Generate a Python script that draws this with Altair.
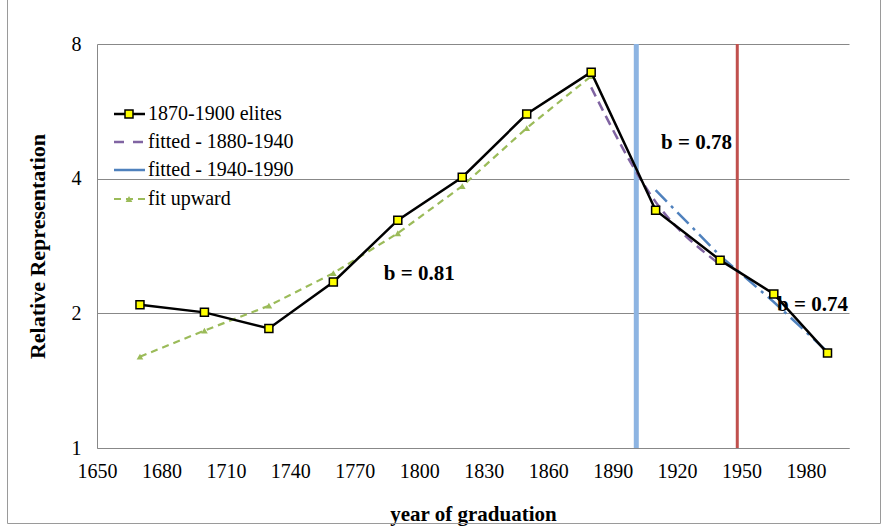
import altair as alt
import pandas as pd

# ---- data ----
years_main = [1670, 1700, 1730, 1760, 1790, 1820, 1850, 1880, 1910, 1940, 1965, 1990]
elite = [2.09, 2.01, 1.85, 2.35, 3.23, 4.03, 5.58, 6.92, 3.40, 2.63, 2.21, 1.63]

years_up = [1670, 1700, 1730, 1760, 1790, 1820, 1850, 1880]
fit_up = [1.60, 1.83, 2.08, 2.46, 3.02, 3.85, 5.19, 6.78]

years_fit1 = [1880, 1910, 1940]
fit1 = [6.40, 3.55, 2.57]

years_fit2 = [1910, 1940, 1965, 1990]
fit2 = [3.77, 2.69, 2.12, 1.64]

vline_years = [1901, 1948]
vline_colors = ["#8DB4E2", "#C0504D"]

x_ticks = [1650, 1680, 1710, 1740, 1770, 1800, 1830, 1860, 1890, 1920, 1950, 1980]
y_ticks = [1, 2, 4, 8]

ann_text = ["b = 0.81", "b = 0.78", "b = 0.74"]
ann_x = [1800, 1929, 1983]
ann_y = [2.45, 4.80, 2.09]

legend_labels = ["1870-1900 elites", "fitted - 1880-1940", "fitted - 1940-1990", "fit upward"]

FONT = "Liberation Serif"

df_main = pd.DataFrame({"year": years_main, "value": elite})
df_up = pd.DataFrame({"year": years_up, "value": fit_up})
df_f1 = pd.DataFrame({"year": years_fit1, "value": fit1})
df_f2 = pd.DataFrame({"year": years_fit2, "value": fit2})
df_v = pd.DataFrame({"year": vline_years, "color": vline_colors})
df_ann = pd.DataFrame({"year": ann_x, "value": ann_y, "text": ann_text})

xscale = alt.Scale(domain=[1650, 2000], nice=False, zero=False)
yscale = alt.Scale(type="log", base=2, domain=[1, 8], nice=False)

X = alt.X("year:Q", scale=xscale,
          axis=alt.Axis(values=x_ticks, grid=False, ticks=False, format="d",
                        title="year of graduation", labelPadding=13, titlePadding=22,
                        labelFlush=False, labelOverlap=False,
                        domainColor="#888888", labelFont=FONT, labelFontSize=20,
                        labelColor="black", titleFont=FONT, titleFontSize=21,
                        titleFontWeight="bold", titleColor="black"))
Y = alt.Y("value:Q", scale=yscale,
          axis=alt.Axis(values=y_ticks, grid=True, gridColor="#888888", gridWidth=1,
                        ticks=False, format="d", title="Relative Representation",
                        labelPadding=16, titlePadding=22, domainColor="#888888",
                        labelFlush=False, labelOverlap=False,
                        labelFont=FONT, labelFontSize=20, labelColor="black",
                        titleFont=FONT, titleFontSize=22, titleFontWeight="bold",
                        titleColor="black"))

base_axes = alt.Chart(df_main).mark_line(opacity=0).encode(x=X, y=Y)

vlines = alt.Chart(df_v).mark_rule().encode(
    x=alt.X("year:Q", scale=xscale),
    color=alt.Color("color:N", scale=None),
    strokeWidth=alt.condition(alt.datum.year < 1920, alt.value(5), alt.value(3)),
)

up_line = alt.Chart(df_up).mark_line(color="#9BBB59", strokeWidth=2.2,
                                     strokeDash=[7, 5]).encode(
    x=alt.X("year:Q", scale=xscale), y=alt.Y("value:Q", scale=yscale))
up_pts = alt.Chart(df_up).mark_point(shape="triangle-up", filled=True, color="#9BBB59",
                                     size=45, opacity=1).encode(
    x=alt.X("year:Q", scale=xscale), y=alt.Y("value:Q", scale=yscale))

f1_line = alt.Chart(df_f1).mark_line(color="#8064A2", strokeWidth=2.5,
                                     strokeDash=[10, 6], interpolate="monotone").encode(
    x=alt.X("year:Q", scale=xscale), y=alt.Y("value:Q", scale=yscale))
f2_line = alt.Chart(df_f2).mark_line(color="#4F81BD", strokeWidth=2.5,
                                     strokeDash=[16, 6, 3, 6]).encode(
    x=alt.X("year:Q", scale=xscale), y=alt.Y("value:Q", scale=yscale))

main_line = alt.Chart(df_main).mark_line(color="black", strokeWidth=2.5).encode(
    x=alt.X("year:Q", scale=xscale), y=alt.Y("value:Q", scale=yscale))
main_pts = alt.Chart(df_main).mark_square(size=64, color="#FFFF00", stroke="black",
                                          strokeWidth=1.5, opacity=1).encode(
    x=alt.X("year:Q", scale=xscale), y=alt.Y("value:Q", scale=yscale))

ann = alt.Chart(df_ann).mark_text(font=FONT, fontSize=21, fontWeight="bold",
                                  color="black", align="center", baseline="middle").encode(
    x=alt.X("year:Q", scale=xscale), y=alt.Y("value:Q", scale=yscale), text="text:N")

# ---- manual legend (pixel layout inside plot area) ----
leg_y = [70, 98, 126, 155]
leg_layers = []
one = pd.DataFrame({"a": [0]})
leg_layers.append(alt.Chart(one).mark_rule(color="black", strokeWidth=2.5).encode(
    x=alt.value(17), x2=alt.value(48), y=alt.value(leg_y[0])))
leg_layers.append(alt.Chart(one).mark_square(size=64, color="#FFFF00", stroke="black",
                                             strokeWidth=1.5, opacity=1).encode(
    x=alt.value(32), y=alt.value(leg_y[0])))
leg_layers.append(alt.Chart(one).mark_rule(color="#8064A2", strokeWidth=2.5,
                                           strokeDash=[10, 9]).encode(
    x=alt.value(17), x2=alt.value(48), y=alt.value(leg_y[1])))
leg_layers.append(alt.Chart(one).mark_rule(color="#4F81BD", strokeWidth=2.5).encode(
    x=alt.value(17), x2=alt.value(48), y=alt.value(leg_y[2])))
leg_layers.append(alt.Chart(one).mark_rule(color="#9BBB59", strokeWidth=2.2,
                                           strokeDash=[7, 5]).encode(
    x=alt.value(17), x2=alt.value(48), y=alt.value(leg_y[3])))
leg_layers.append(alt.Chart(one).mark_point(shape="triangle-up", filled=True,
                                            color="#9BBB59", size=45, opacity=1).encode(
    x=alt.value(32), y=alt.value(leg_y[3])))
for lab, yy in zip(legend_labels, leg_y):
    leg_layers.append(alt.Chart(one).mark_text(
        font=FONT, fontSize=20, color="black", align="left", baseline="middle",
        text=lab).encode(x=alt.value(51), y=alt.value(yy)))

# chart-area border (as in the source spreadsheet chart)
border = alt.Chart(one).mark_rect(fill=None, stroke="#9a9a9a", strokeWidth=1).encode(
    x=alt.value(-89.5), x2=alt.value(783.5), y=alt.value(-60), y2=alt.value(479.5))

chart = alt.layer(
    border, base_axes, vlines, up_line, up_pts, f1_line, f2_line, main_line, main_pts, ann,
    *leg_layers
).properties(
    width=752, height=404,
    autosize=alt.AutoSizeParams(type="none"),
    padding={"left": 97, "top": 44, "right": 36, "bottom": 80},
    background="white",
).configure_view(stroke=None)

chart.save("out.html", embed_options={"renderer": "svg", "actions": False})
